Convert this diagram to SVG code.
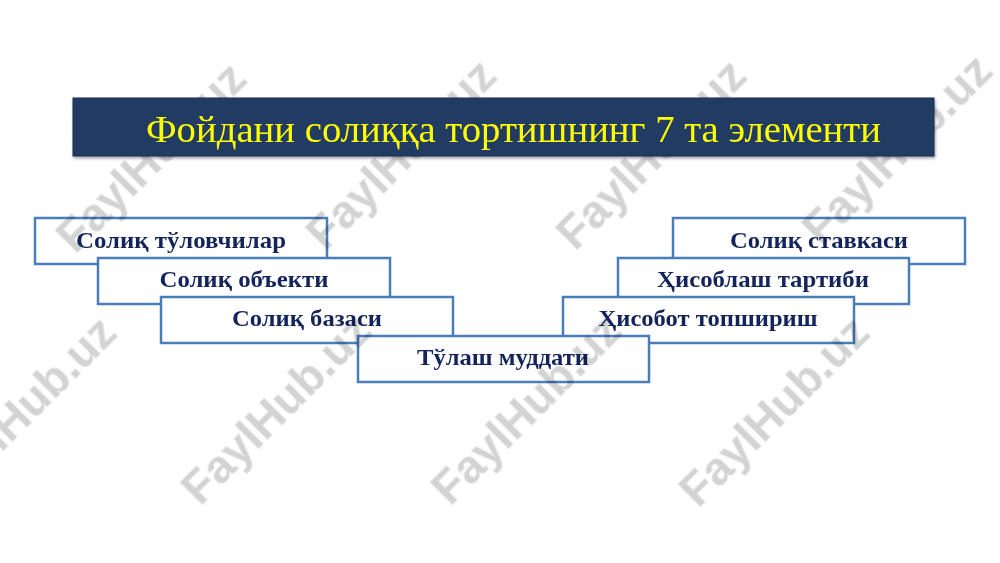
<svg xmlns="http://www.w3.org/2000/svg" width="1000" height="563" viewBox="0 0 1000 563">
  <style>
    .box { fill: #ffffff; stroke: #4a7ebb; stroke-width: 2.5; }
    .lbl { font-family: "Liberation Serif", "Times New Roman", serif; font-weight: bold; font-size: 23px; fill: #13245c; text-anchor: middle; }
    .title { font-family: "Liberation Serif", "Times New Roman", serif; font-size: 38px; fill: #ffff00; }
    .wm { font-family: "Liberation Sans", Arial, sans-serif; font-weight: bold; font-size: 46px; fill: #d3d3d3; stroke: #e6e6e6; stroke-width: 1; text-anchor: middle; mix-blend-mode: multiply; }
    .wmo { font-family: "Liberation Sans", Arial, sans-serif; font-weight: bold; font-size: 46px; fill: none; stroke: #ffffff; stroke-opacity: 0.25; stroke-width: 1; text-anchor: middle; }
  </style>
  <defs>
    <filter id="sh" x="-5%" y="-20%" width="110%" height="150%">
      <feDropShadow dx="1" dy="2" stdDeviation="1.5" flood-color="#000" flood-opacity="0.35"/>
    </filter>
    <clipPath id="barclip"><rect x="73" y="98" width="861" height="58"/></clipPath>
  </defs>
  <rect width="1000" height="563" fill="#ffffff"/>

  <g id="connectors"></g>

  <g id="node-soliq-toluvchilar">
    <rect class="box" x="35" y="218" width="292" height="46"/>
    <text class="lbl" x="181" y="248" textLength="210" lengthAdjust="spacingAndGlyphs">Солиқ тўловчилар</text>
  </g>
  <g id="node-soliq-obyekti">
    <rect class="box" x="98" y="258" width="292" height="46"/>
    <text class="lbl" x="244" y="287" textLength="169" lengthAdjust="spacingAndGlyphs">Солиқ объекти</text>
  </g>
  <g id="node-soliq-bazasi">
    <rect class="box" x="161" y="297" width="292" height="46"/>
    <text class="lbl" x="307" y="326" textLength="150" lengthAdjust="spacingAndGlyphs">Солиқ базаси</text>
  </g>
  <g id="node-soliq-stavkasi">
    <rect class="box" x="673" y="218" width="292" height="46"/>
    <text class="lbl" x="819" y="248" textLength="178" lengthAdjust="spacingAndGlyphs">Солиқ ставкаси</text>
  </g>
  <g id="node-hisoblash-tartibi">
    <rect class="box" x="618" y="258" width="291" height="46"/>
    <text class="lbl" x="763" y="287" textLength="212" lengthAdjust="spacingAndGlyphs">Ҳисоблаш тартиби</text>
  </g>
  <g id="node-hisobot-topshirish">
    <rect class="box" x="563" y="297" width="291" height="46"/>
    <text class="lbl" x="708" y="326" textLength="219" lengthAdjust="spacingAndGlyphs">Ҳисобот топшириш</text>
  </g>
  <g id="node-tulash-muddati">
    <rect class="box" x="358" y="336" width="291" height="46"/>
    <text class="lbl" x="503" y="365" textLength="172" lengthAdjust="spacingAndGlyphs">Тўлаш муддати</text>
  </g>

  <g id="watermarks">
    <text class="wm" x="162" y="168" transform="rotate(-45 162 168)">FaylHub.uz</text>
    <text class="wm" x="412" y="165" transform="rotate(-45 412 165)">FaylHub.uz</text>
    <text class="wm" x="662" y="165" transform="rotate(-45 662 165)">FaylHub.uz</text>
    <text class="wm" x="908" y="160" transform="rotate(-45 908 160)">FaylHub.uz</text>
    <text class="wm" x="32" y="422" transform="rotate(-45 32 422)">FaylHub.uz</text>
    <text class="wm" x="287" y="420" transform="rotate(-45 287 420)">FaylHub.uz</text>
    <text class="wm" x="537" y="420" transform="rotate(-45 537 420)">FaylHub.uz</text>
    <text class="wm" x="785" y="422" transform="rotate(-45 785 422)">FaylHub.uz</text>
  </g>

  <g id="node-title">
    <rect x="73" y="98" width="861" height="58" fill="#213a63" stroke="#1b2f52" stroke-width="1" filter="url(#sh)"/>
    <text class="title" x="146" y="142" textLength="735" lengthAdjust="spacingAndGlyphs">Фойдани солиққа тортишнинг 7 та элементи</text>
  </g>
</svg>
